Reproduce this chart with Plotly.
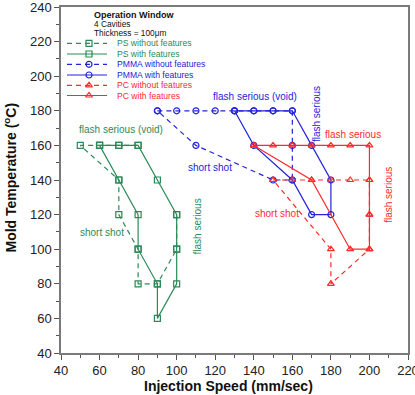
import plotly.graph_objects as go

# ---------------- data ----------------
ps_wo_x = [80, 70, 60, 50, 70, 70, 80, 80, 90, 100, 100]
ps_wo_y = [160, 160, 160, 160, 140, 120, 100, 80, 80, 100, 120]
ps_w_x = [60, 70, 80, 90, 100, 100, 100, 90, 90, 80, 80, 70, 60]
ps_w_y = [160, 160, 160, 140, 120, 100, 80, 60, 80, 100, 120, 140, 160]

pmma_wo_x = [90, 100, 110, 120, 130, 140, 150, 160, 160, 160, 150, 110, 90]
pmma_wo_y = [180, 180, 180, 180, 180, 180, 180, 180, 160, 140, 140, 160, 180]
pmma_w_x = [130, 140, 150, 160, 170, 180, 180, 170, 160, 140, 130]
pmma_w_y = [180, 180, 180, 180, 160, 140, 120, 120, 140, 160, 180]

pc_wo_x = [150, 160, 170, 180, 190, 200, 200, 200, 180, 180, 150]
pc_wo_y = [140, 140, 140, 140, 140, 140, 120, 100, 80, 100, 140]
pc_w_x = [140, 150, 160, 170, 180, 190, 200, 200, 200, 200, 190, 170, 140]
pc_w_y = [160, 160, 160, 160, 160, 160, 160, 140, 120, 100, 100, 140, 160]

legend_labels = ["PS without features", "PS with features",
                 "PMMA without features", "PMMA with features",
                 "PC without features", "PC with features"]
header_lines = ["Operation Window", "4 Cavities", "Thickness = 100\u03bcm"]
x_title = "Injection Speed (mm/sec)"
y_title = "Mold Temperature (<sup>o</sup>C)"

GREEN = "#2b8a57"
BLUE = "#2424d8"
RED = "#ff2a2a"
DASH = "5px,4px"
FONT = "Liberation Sans, Arial"

series = [
    (ps_wo_x, ps_wo_y, GREEN, "square-open", DASH),
    (ps_w_x, ps_w_y, GREEN, "square-open", "solid"),
    (pmma_wo_x, pmma_wo_y, BLUE, "circle-open", DASH),
    (pmma_w_x, pmma_w_y, BLUE, "circle-open", "solid"),
    (pc_wo_x, pc_wo_y, RED, "triangle-up-open", DASH),
    (pc_w_x, pc_w_y, RED, "triangle-up-open", "solid"),
]

W, H = 415, 395
ML, MR, MT, MB = 61, 7, 7, 42
PW, PH = W - ML - MR, H - MT - MB


def px_to_paper(px, py):
    return (px - ML) / PW, (H - MB - py) / PH


fig = go.Figure()
for (xs, ys, col, sym, dash), lab in zip(series, legend_labels):
    fig.add_trace(go.Scatter(
        x=xs, y=ys, mode="lines+markers", name=lab, showlegend=False,
        line=dict(color=col, width=1.2, dash=dash),
        marker=dict(symbol=sym, size=6, color=col, line=dict(width=1.2, color=col)),
        cliponaxis=False))

# ---- manual legend in pixel coordinates (overlay axes) ----
leg_y = [43.3, 54, 64.3, 75, 85.3, 95.5]
for (xs, ys, col, sym, dash), lab, yy in zip(series, legend_labels, leg_y):
    fig.add_trace(go.Scatter(
        x=[67, 107], y=[yy, yy], mode="lines", xaxis="x2", yaxis="y2",
        showlegend=False, line=dict(color=col, width=1.2, dash=dash), hoverinfo="skip"))
    fig.add_trace(go.Scatter(
        x=[89], y=[yy], mode="markers", xaxis="x2", yaxis="y2", showlegend=False,
        marker=dict(symbol=sym, size=6, color=col, line=dict(width=1.2, color=col)),
        hoverinfo="skip"))
    fig.add_annotation(x=115, y=yy, xref="x2", yref="y2", text=lab, showarrow=False,
                       xanchor="left", yanchor="middle",
                       font=dict(size=8.6, color=col, family=FONT))

head_y = [15, 24.3, 33.3]
for i, (t, yy) in enumerate(zip(header_lines, head_y)):
    fig.add_annotation(x=92, y=yy, xref="x2", yref="y2",
                       text=f"<b>{t}</b>" if i == 0 else t, showarrow=False,
                       xanchor="left", yanchor="middle",
                       font=dict(size=9 if i == 0 else 8.3, color="#111", family=FONT))

# axis titles as annotations (paper coordinates)
tx, ty = px_to_paper(228.5, 386)
fig.add_annotation(x=tx, y=ty, xref="paper", yref="paper", text=f"<b>{x_title}</b>",
                   showarrow=False, xanchor="center", yanchor="middle",
                   font=dict(size=14, color="#111", family=FONT))
tx, ty = px_to_paper(10.5, 178)
fig.add_annotation(x=tx, y=ty, xref="paper", yref="paper", text=f"<b>{y_title}</b>",
                   showarrow=False, textangle=-90, xanchor="center", yanchor="middle",
                   font=dict(size=14, color="#111", family=FONT))

# ---- region annotations (data coords) ----
notes = [
    ("flash serious (void)", 71.2, 169.3, GREEN, 0),
    ("short shot", 61.5, 109.4, GREEN, 0),
    ("flash serious", 110.6, 113.2, GREEN, -90),
    ("short shot", 117.5, 147.1, BLUE, 0),
    ("flash serious (void)", 140.4, 188.2, BLUE, 0),
    ("flash serious", 172.2, 178, BLUE, -90),
    ("flash serious", 191.6, 166.4, RED, 0),
    ("short shot", 152.2, 120.6, RED, 0),
    ("flash serious", 209.8, 131.6, RED, -90),
]
for t, x, y, c, ang in notes:
    fig.add_annotation(x=x, y=y, text=t, showarrow=False, textangle=ang,
                       font=dict(size=10, color=c, family=FONT))

axis_common = dict(
    showline=True, linecolor="#7a7a7a", linewidth=1.5, mirror=True,
    ticks="outside", ticklen=5, tickwidth=1, tickcolor="#555",
    showgrid=False, zeroline=False, automargin=False, ticklabeloverflow="allow",
    tickfont=dict(size=13, color="#222", family=FONT),
    minor=dict(ticks="outside", ticklen=3, tickcolor="#555", dtick=10, showgrid=False),
)

fig.update_layout(
    width=W, height=H,
    margin=dict(l=ML, r=MR, t=MT, b=MB),
    paper_bgcolor="white", plot_bgcolor="white",
    showlegend=False,
    xaxis=dict(range=[40, 220], dtick=20, **axis_common),
    yaxis=dict(range=[40, 240], dtick=20, **axis_common),
    xaxis2=dict(overlaying="x", range=[ML, W - MR], visible=False, fixedrange=True),
    yaxis2=dict(overlaying="y", range=[H - MB, MT], visible=False, fixedrange=True),
)

fig.write_html("out.html")
